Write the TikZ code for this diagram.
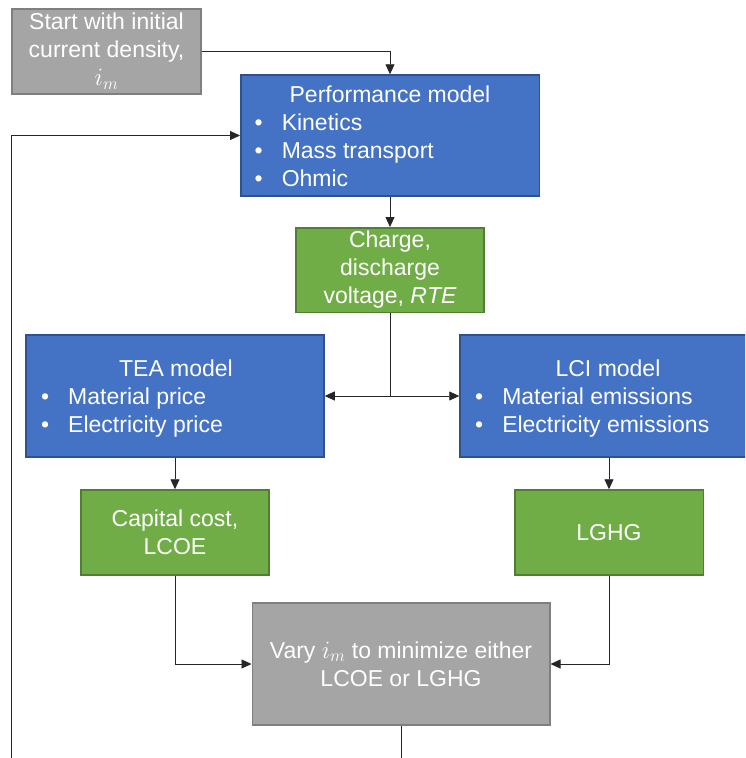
\documentclass[tikz,border=0pt]{standalone}
\usepackage{fontspec}
\setmainfont{Liberation Sans}
\usetikzlibrary{arrows.meta}
\definecolor{bluefill}{HTML}{4472C4}
\definecolor{blueline}{HTML}{2F528F}
\definecolor{greenfill}{HTML}{70AD47}
\definecolor{greenline}{HTML}{507E32}
\definecolor{grayfill}{HTML}{A5A5A5}
\definecolor{grayline}{HTML}{7F7F7F}
\begin{document}
\begin{tikzpicture}[x=1pt,y=-1pt,
  box/.style={rectangle, line width=1.5pt, inner sep=0pt, text=white, align=center,
    font=\fontsize{23}{28}\selectfont},
  bluebox/.style={box, fill=bluefill, draw=blueline},
  greenbox/.style={box, fill=greenfill, draw=greenline},
  graybox/.style={box, fill=grayfill, draw=grayline},
  txt/.style={inner sep=0pt, text=white, font=\fontsize{23}{28}\selectfont},
  conn/.style={line width=0.8pt, draw=black!85},
  arr/.style={conn, -{Triangle[length=10pt,width=9pt]}}]
\clip (0,0) rectangle (745,758);
\fill[white] (0,0) rectangle (745,758);
% boxes
\node[graybox, minimum width=189pt, minimum height=85pt] (start) at (106.5,51.5)
  {Start with initial\\current density,\\$i_m$};
\node[bluebox, minimum width=298.5pt, minimum height=121pt] (perf) at (390,135.5) {};
\node[greenbox, minimum width=188pt, minimum height=84.5pt] (charge) at (390,270)
  {Charge,\\discharge\\voltage, $\mathit{RTE}$};
\node[bluebox, minimum width=298pt, minimum height=122pt] (tea) at (175,396) {};
\node[bluebox, minimum width=298pt, minimum height=122pt] (lci) at (609,396) {};
\node[greenbox, minimum width=188pt, minimum height=85pt] (cap) at (175,532.5)
  {Capital cost,\\LCOE};
\node[greenbox, minimum width=188.5pt, minimum height=85pt] (lghg) at (609,532.5) {LGHG};
\node[graybox, minimum width=297.5pt, minimum height=122pt] (vary) at (401,664)
  {Vary $i_m$ to minimize either\\LCOE or LGHG};
% texts inside list boxes
\node[txt, anchor=base] (perftitle) at (390,102) {Performance model};
\node[txt, anchor=base west] (perflist) at (254.5,130)
  {\begin{tabular}[t]{@{}l@{}}\textbullet\hspace{19pt}Kinetics\\\textbullet\hspace{19pt}Mass transport\\\textbullet\hspace{19pt}Ohmic\end{tabular}};
\node[txt, anchor=base] (teatitle) at (176,376) {TEA model};
\node[txt, anchor=base west] (tealist) at (41,404)
  {\begin{tabular}[t]{@{}l@{}}\textbullet\hspace{19pt}Material price\\\textbullet\hspace{19pt}Electricity price\end{tabular}};
\node[txt, anchor=base] (lcititle) at (608,376) {LCI model};
\node[txt, anchor=base west] (lcilist) at (475,404)
  {\begin{tabular}[t]{@{}l@{}}\textbullet\hspace{19pt}Material emissions\\\textbullet\hspace{19pt}Electricity emissions\end{tabular}};
% connectors
\coordinate (fb) at (11,760);
\coordinate (out) at (401,760);
\draw[arr] (start.east) -| (perf.north);
\draw[arr] (fb) |- (perf.west);
\draw[arr] (perf.south) -- (charge.north);
\draw[arr] (charge.south) |- (tea.east);
\draw[arr] (charge.south) |- (lci.west);
\draw[arr] (tea.south) -- (cap.north);
\draw[arr] (lci.south) -- (lghg.north);
\draw[arr] (cap.south) |- (vary.west);
\draw[arr] (lghg.south) |- (vary.east);
\draw[conn] (vary.south) -- (out);
\end{tikzpicture}
\end{document}
